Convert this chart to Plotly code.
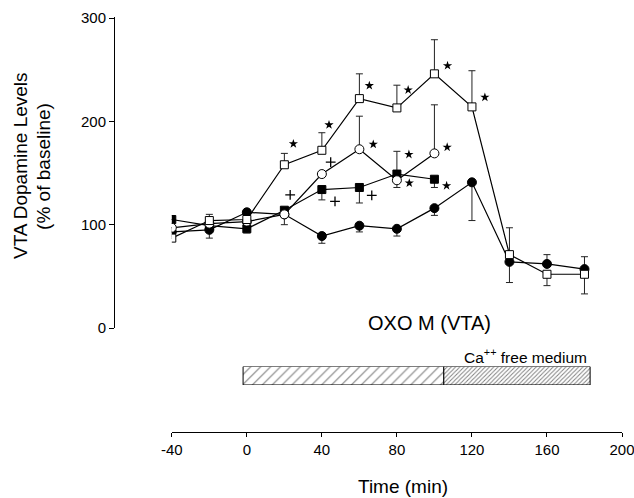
import plotly.graph_objects as go

# ---------------- data ----------------
times_long = [-40, -20, 0, 20, 40, 60, 80, 100, 120, 140, 160, 180]
times_short = [-40, -20, 0, 20, 40, 60, 80, 100]

open_sq = [87, 104, 105, 158, 172, 222, 213, 246, 214, 71, 52, 52]
open_sq_up = [0, 6, 0, 11, 17, 24, 22, 33, 35, 26, 0, 0]
open_sq_dn = [0, 0, 0, 0, 0, 0, 0, 0, 0, 0, 11, 19]

filled_circ = [93, 95, 112, 110, 89, 99, 96, 116, 141, 64, 62, 57]
filled_circ_up = [0, 0, 0, 0, 0, 0, 0, 0, 0, 0, 9, 12]
filled_circ_dn = [0, 8, 0, 0, 7, 6, 7, 7, 37, 20, 0, 0]

open_circ = [97, 101, 103, 110, 149, 173, 143, 169]
open_circ_up = [0, 0, 0, 0, 0, 32, 0, 47]
open_circ_dn = [0, 0, 0, 10, 0, 0, 7, 0]

filled_sq = [105, 99, 96, 114, 134, 136, 149, 144]
filled_sq_up = [0, 0, 0, 0, 0, 0, 22, 0]
filled_sq_dn = [0, 0, 4, 0, 10, 15, 0, 8]

# significance markers (time, value)
star_t = [24.8, 43.8, 65.3, 86.0, 107.0, 126.9, 67.4, 86.6, 106.8, 86.4, 106.5]
star_v = [178.3, 196.6, 234.6, 230.4, 253.9, 223.3, 177.8, 140.3, 175.0, 168.0, 137.7]
plus_t = [23.1, 44.7, 47.0, 66.6]
plus_v = [128.9, 160.5, 122.6, 128.4]

# treatment bars (start, end) in minutes
bar_start = [-2, 105]
bar_end = [105, 183]

x_ticks = [-40, 0, 40, 80, 120, 160, 200]
x_tick_text = ["-40", "0", "40", "80", "120", "160", "200"]
y_ticks = [0, 100, 200, 300]

FONT = "Liberation Sans, Arial, Helvetica, sans-serif"

fig = go.Figure()


def err(up, dn):
    return dict(type="data", symmetric=False, array=up, arrayminus=dn,
                color="#222", thickness=1, width=3.5)


line = dict(color="black", width=1.2)

fig.add_trace(go.Scatter(
    x=times_long, y=filled_circ, mode="lines+markers", line=line,
    marker=dict(symbol="circle", size=9, color="black", line=dict(color="black", width=1)),
    error_y=err(filled_circ_up, filled_circ_dn), showlegend=False))

fig.add_trace(go.Scatter(
    x=times_short, y=filled_sq, mode="lines+markers", line=line,
    marker=dict(symbol="square", size=8, color="black", line=dict(color="black", width=1)),
    error_y=err(filled_sq_up, filled_sq_dn), showlegend=False))

fig.add_trace(go.Scatter(
    x=times_short, y=open_circ, mode="lines+markers", line=line,
    marker=dict(symbol="circle", size=9, color="white", line=dict(color="black", width=1)),
    error_y=err(open_circ_up, open_circ_dn), showlegend=False))

fig.add_trace(go.Scatter(
    x=times_long, y=open_sq, mode="lines+markers", line=line,
    marker=dict(symbol="square", size=8, color="white", line=dict(color="black", width=1)),
    error_y=err(open_sq_up, open_sq_dn), showlegend=False))

fig.add_trace(go.Scatter(
    x=star_t, y=star_v, mode="markers",
    marker=dict(symbol="star", size=7, color="black", line=dict(width=0)),
    showlegend=False))

fig.add_trace(go.Scatter(
    x=plus_t, y=plus_v, mode="markers",
    marker=dict(symbol="cross-thin", size=7, line=dict(color="black", width=1.3)),
    showlegend=False))

# hatched treatment bars
fig.add_trace(go.Bar(
    orientation="h", y=[0, 0], base=bar_start,
    x=[e - s for s, e in zip(bar_start, bar_end)],
    width=1, xaxis="x", yaxis="y2",
    marker=dict(color="white", line=dict(color="black", width=1),
                pattern=dict(shape=["/", "/"], size=[7, 3],
                             solidity=[0.16, 0.33], fgcolor="black", bgcolor="white")),
    showlegend=False, hoverinfo="skip"))

fig.update_layout(
    width=634, height=498,
    margin=dict(l=114, r=12, t=17, b=66),
    paper_bgcolor="white", plot_bgcolor="rgba(0,0,0,0)",
    font=dict(family=FONT, color="black", size=15),
    barmode="overlay",
    xaxis=dict(domain=[0.1138, 1], range=[-40, 200], anchor="free", position=0,
               tickmode="array", tickvals=x_ticks, ticktext=x_tick_text,
               ticks="outside", ticklen=4, ticklabeloverflow="allow", automargin=False,
               tickcolor="black", showline=True, linecolor="black", linewidth=1,
               showgrid=False, zeroline=False, tickfont=dict(size=15)),
    yaxis=dict(domain=[0.2506, 1], range=[0, 301], anchor="free", position=0,
               tickmode="array", tickvals=y_ticks, ticks="outside", ticklen=5,
               automargin=False, ticklabeloverflow="allow",
               tickcolor="black", showline=True, linecolor="black", linewidth=1,
               showgrid=False, zeroline=False, tickfont=dict(size=15)),
    yaxis2=dict(domain=[0.1133, 0.1578], range=[-0.5, 0.5], anchor="free",
                position=0, visible=False),
    annotations=[
        dict(text="VTA Dopamine Levels", xref="paper", yref="paper",
             x=-0.183, y=0.641, xanchor="center", yanchor="middle", textangle=-90,
             showarrow=False, font=dict(size=19)),
        dict(text="(% of baseline)", xref="paper", yref="paper",
             x=-0.138, y=0.641, xanchor="center", yanchor="middle", textangle=-90,
             showarrow=False, font=dict(size=19)),
        dict(text="Time (min)", xref="paper", yref="paper", x=0.569, y=-0.1325,
             xanchor="center", yanchor="middle", showarrow=False, font=dict(size=19)),
        dict(text="OXO M (VTA)", xref="paper", yref="paper", x=0.622, y=0.2627,
             xanchor="center", yanchor="middle", showarrow=False, font=dict(size=20)),
        dict(text="Ca<sup>++</sup> free medium", xref="paper", yref="paper",
             x=0.686, y=0.183, xanchor="left", yanchor="middle", showarrow=False,
             font=dict(size=15.5)),
    ],
)

# remove the page's default 8px body margin so the 634x498 figure fills the window exactly
fig.write_html("out.html",
               config={"displayModeBar": False},
               post_script="document.body.style.margin='0';document.body.style.overflow='hidden';")
